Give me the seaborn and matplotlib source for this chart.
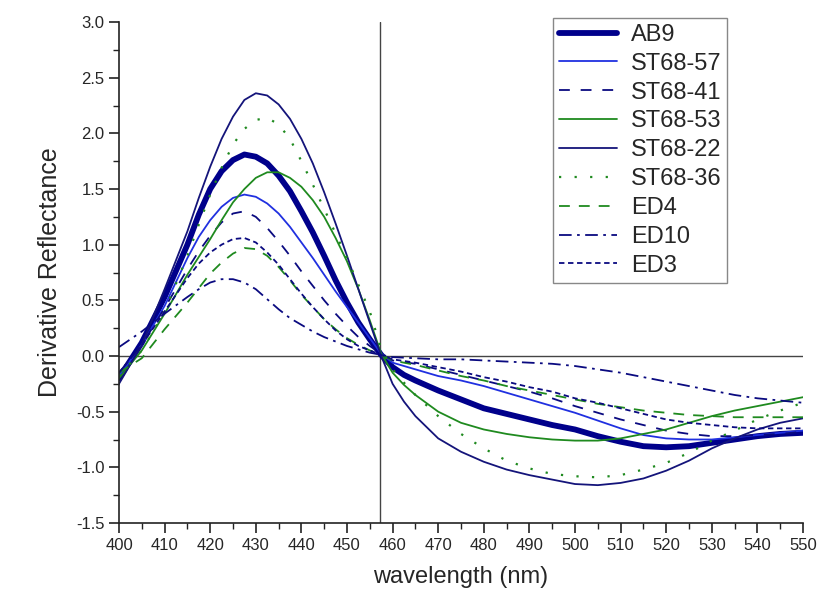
import matplotlib
matplotlib.use("Agg")
import matplotlib.pyplot as plt
import seaborn as sns
import pandas as pd
from matplotlib.ticker import MultipleLocator

sns.set_style("white")
plt.rcParams['font.family'] = ['Liberation Sans', 'DejaVu Sans']

wavelength = [400, 405, 410,
              415, 417.5, 420, 422.5, 425, 427.5, 430, 432.5, 435, 437.5, 440, 442.5, 445, 447.5,
              450, 452.5, 455, 457.5, 460, 462.5, 465,
              470, 475, 480, 485, 490, 495, 500, 505, 510, 515, 520, 525, 530, 535, 540, 545, 550]

AB9 = [-0.20, 0.12, 0.53,
       1.00, 1.27, 1.50, 1.66, 1.76, 1.81, 1.79, 1.73, 1.62, 1.48, 1.30, 1.11, 0.90, 0.68,
       0.48, 0.30, 0.15, 0.01, -0.10, -0.17, -0.22,
       -0.31, -0.39, -0.47, -0.52, -0.57, -0.62, -0.66, -0.72, -0.77, -0.81, -0.82, -0.81, -0.78, -0.75, -0.72, -0.70, -0.69]
ST68_57 = [-0.18, 0.10, 0.45,
           0.88, 1.07, 1.22, 1.34, 1.42, 1.45, 1.43, 1.37, 1.28, 1.16, 1.02, 0.88, 0.73, 0.58,
           0.44, 0.30, 0.16, 0.02, -0.06, -0.09, -0.12,
           -0.18, -0.22, -0.27, -0.33, -0.39, -0.45, -0.51, -0.58, -0.65, -0.71, -0.74, -0.75, -0.75, -0.73, -0.71, -0.69, -0.67]
ST68_41 = [-0.15, 0.10, 0.43,
           0.78, 0.94, 1.08, 1.20, 1.28, 1.30, 1.25, 1.15, 1.03, 0.90, 0.76, 0.63, 0.50, 0.38,
           0.27, 0.17, 0.09, 0.02, -0.04, -0.055, -0.07,
           -0.12, -0.17, -0.22, -0.27, -0.32, -0.38, -0.45, -0.51, -0.57, -0.62, -0.67, -0.70, -0.72, -0.72, -0.71, -0.70, -0.68]
ST68_53 = [-0.20, 0.05, 0.38,
           0.73, 0.89, 1.05, 1.22, 1.38, 1.50, 1.60, 1.65, 1.65, 1.60, 1.52, 1.40, 1.25, 1.06,
           0.85, 0.60, 0.32, 0.02, -0.15, -0.26, -0.35,
           -0.50, -0.60, -0.66, -0.70, -0.73, -0.75, -0.76, -0.76, -0.74, -0.70, -0.66, -0.60, -0.54, -0.49, -0.45, -0.41, -0.37]
ST68_22 = [-0.25, 0.10, 0.60,
           1.12, 1.42, 1.70, 1.95, 2.15, 2.30, 2.36, 2.34, 2.26, 2.13, 1.95, 1.73, 1.47, 1.19,
           0.90, 0.60, 0.30, 0.00, -0.25, -0.41, -0.54,
           -0.74, -0.86, -0.95, -1.02, -1.07, -1.11, -1.15, -1.16, -1.14, -1.10, -1.03, -0.94, -0.83, -0.74, -0.66, -0.60, -0.56]
ST68_36 = [-0.18, 0.05, 0.40,
           0.90, 1.18, 1.45, 1.69, 1.90, 2.04, 2.12, 2.14, 2.08, 1.95, 1.75, 1.54, 1.32, 1.10,
           0.88, 0.64, 0.40, 0.06, -0.12, -0.24, -0.35,
           -0.54, -0.70, -0.83, -0.94, -1.01, -1.06, -1.08, -1.09, -1.07, -1.02, -0.96, -0.87, -0.76, -0.67, -0.57, -0.49, -0.42]
ED4 = [-0.15, -0.02, 0.24,
       0.48, 0.61, 0.74, 0.84, 0.92, 0.97, 0.96, 0.90, 0.80, 0.68, 0.55, 0.44, 0.33, 0.24,
       0.16, 0.10, 0.05, 0.01, -0.04, -0.06, -0.08,
       -0.13, -0.18, -0.22, -0.27, -0.31, -0.35, -0.39, -0.43, -0.46, -0.49, -0.51, -0.53, -0.54, -0.55, -0.55, -0.55, -0.55]
ED10 = [0.08, 0.22, 0.38,
        0.53, 0.60, 0.66, 0.69, 0.69, 0.66, 0.60, 0.51, 0.42, 0.34, 0.28, 0.22, 0.17, 0.13,
        0.09, 0.06, 0.03, 0.01, -0.01, -0.015, -0.02,
        -0.03, -0.03, -0.04, -0.05, -0.06, -0.07, -0.09, -0.12, -0.15, -0.19, -0.23, -0.27, -0.31, -0.35, -0.38, -0.40, -0.42]
ED3 = [-0.15, 0.10, 0.40,
       0.70, 0.83, 0.93, 1.00, 1.05, 1.06, 1.02, 0.93, 0.82, 0.69, 0.56, 0.44, 0.33, 0.23,
       0.15, 0.09, 0.05, 0.01, -0.03, -0.045, -0.06,
       -0.10, -0.14, -0.19, -0.23, -0.28, -0.32, -0.38, -0.42, -0.47, -0.52, -0.57, -0.60, -0.62, -0.64, -0.65, -0.65, -0.65]

series_names = ["AB9", "ST68-57", "ST68-41", "ST68-53", "ST68-22", "ST68-36", "ED4", "ED10", "ED3"]
series_values = [AB9, ST68_57, ST68_41, ST68_53, ST68_22, ST68_36, ED4, ED10, ED3]

navy = "#0a0a80"
blue = "#2030e0"
green = "#1f8a1f"
styles = {
    "AB9":     dict(color="#00008b", lw=4.2, dashes=None),
    "ST68-57": dict(color=blue, lw=1.3, dashes=None),
    "ST68-41": dict(color=navy, lw=1.3, dashes=(6, 6)),
    "ST68-53": dict(color=green, lw=1.3, dashes=None),
    "ST68-22": dict(color="#14147a", lw=1.3, dashes=None),
    "ST68-36": dict(color=green, lw=1.6, dashes=(1, 6)),
    "ED4":     dict(color=green, lw=1.3, dashes=(6, 5)),
    "ED10":    dict(color=navy, lw=1.3, dashes=(7, 3, 1.5, 3)),
    "ED3":     dict(color=navy, lw=1.3, dashes=(3, 2)),
}

fig = plt.figure(figsize=(8.25, 6.03), dpi=100)
ax = fig.add_axes([119/825, 1 - 523/603, (803-119)/825, (523-22)/603])

for name, vals in zip(series_names, series_values):
    st = styles[name]
    df = pd.DataFrame({"wavelength": wavelength, "value": vals})
    sns.lineplot(data=df, x="wavelength", y="value", ax=ax, color=st["color"],
                 lw=st["lw"], label=name)
    line = ax.get_lines()[-1]
    if st["dashes"] is not None:
        line.set_dashes(st["dashes"])

ax.axhline(0, color="#444444", lw=1.0, zorder=0)
ax.axvline(457.2, color="#444444", lw=1.0, zorder=0)

ax.set_xlim(400, 550)
ax.set_ylim(-1.5, 3.0)
ax.xaxis.set_major_locator(MultipleLocator(10))
ax.xaxis.set_minor_locator(MultipleLocator(5))
ax.yaxis.set_major_locator(MultipleLocator(0.5))
ax.yaxis.set_minor_locator(MultipleLocator(0.25))
ax.set_yticks(ax.get_yticks())
ax.set_yticklabels([f"{v:.1f}" for v in ax.get_yticks()])
ax.set_ylim(-1.5, 3.0)
ax.tick_params(which="major", direction="out", length=7, width=1.2, labelsize=12, color="#222222",
               bottom=True, left=True)
ax.tick_params(which="minor", direction="out", length=4, width=1.0, color="#222222",
               bottom=True, left=True)
for s in ["top", "right"]:
    ax.spines[s].set_visible(False)
for s in ["left", "bottom"]:
    ax.spines[s].set_color("#222222")
    ax.spines[s].set_linewidth(1.2)

ax.set_xlabel("wavelength (nm)", fontsize=17, labelpad=10)
ax.set_ylabel("Derivative Reflectance", fontsize=18, labelpad=10)

leg = ax.legend(loc="upper left", bbox_to_anchor=(553/825, 1 - 18/603), bbox_transform=fig.transFigure,
                fontsize=17, frameon=True, fancybox=False, edgecolor="#888888",
                handlelength=2.45, handletextpad=0.6, labelspacing=0.29, borderpad=0.25,
                borderaxespad=0)
leg.get_frame().set_linewidth(1.0)
leg.get_frame().set_alpha(1)

fig.savefig("out.png", dpi=100)
